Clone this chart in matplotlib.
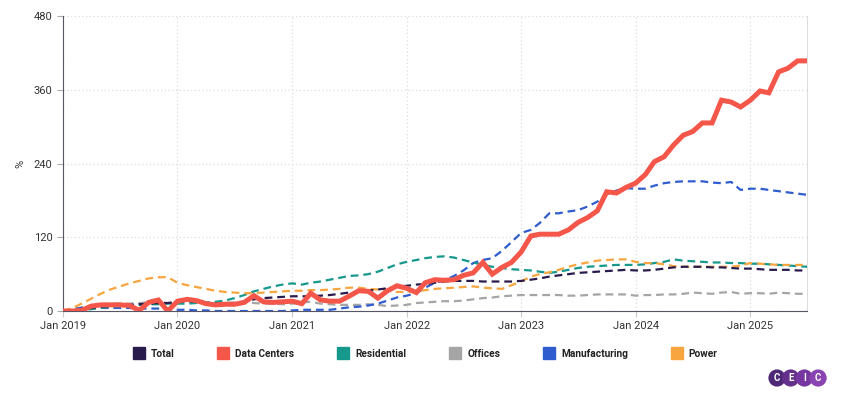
import matplotlib
matplotlib.use("Agg")
import matplotlib.pyplot as plt
import matplotlib.dates as mdates
from matplotlib.lines import Line2D
from matplotlib.patches import Circle
import pandas as pd

plt.rcParams['font.family'] = ['Roboto', 'DejaVu Sans']

months = pd.date_range('2019-01-01', '2025-07-01', freq='MS')

total = [0, 1, 3, 5, 7, 8, 9, 10, 11, 12, 13, 13,
         15, 16, 15, 13, 12, 12, 13, 15, 19, 21, 22, 23,
         24, 24, 24, 25, 26, 28, 30, 31, 33, 35, 37, 40,
         41, 43, 44, 46, 48, 49, 49, 49, 48, 48, 48, 48,
         49, 51, 53, 56, 58, 60, 62, 63, 64, 65, 66, 67,
         66, 66, 67, 69, 71, 72, 72, 72, 71, 71, 70, 69,
         69, 68, 67, 67, 67, 66, 66]
data_centers = [0, 0, 1, 8, 10, 10, 10, 9, 1, 14, 18, 0,
                16, 19, 17, 12, 10, 11, 11, 14, 25, 15, 14, 15,
                16, 12, 29, 18, 16, 16, 24, 33, 32, 21, 33, 41,
                37, 30, 46, 51, 50, 51, 58, 62, 79, 60, 71, 79,
                96, 122, 125, 125, 125, 132, 144, 152, 163, 194, 192, 201,
                208, 222, 243, 251, 270, 286, 292, 306, 306, 343, 340, 332,
                343, 358, 355, 389, 395, 407, 407]
residential = [0, 1, 2, 3, 5, 7, 8, 9, 10, 11, 11, 12,
               12, 12, 13, 14, 15, 17, 21, 26, 32, 36, 40, 43,
               45, 43, 46, 48, 51, 54, 57, 58, 60, 64, 70, 76,
               80, 83, 86, 88, 89, 87, 83, 79, 75, 72, 70, 68,
               67, 66, 64, 62, 64, 67, 70, 72, 73, 74, 75, 75,
               75, 76, 78, 80, 84, 82, 81, 80, 79, 79, 78, 78,
               77, 77, 76, 75, 74, 73, 72]
offices = [0, 3, 6, 9, 11, 12, 12, 12, 13, 14, 14, 13,
           14, 16, 15, 13, 12, 13, 14, 15, 13, 12, 12, 11,
           12, 14, 15, 12, 11, 10, 10, 10, 11, 10, 8, 9,
           10, 13, 14, 15, 16, 16, 17, 19, 21, 22, 24, 25,
           26, 26, 26, 26, 26, 25, 25, 26, 27, 27, 27, 27,
           25, 26, 26, 27, 27, 28, 30, 29, 28, 30, 31, 28,
           29, 29, 28, 30, 29, 28, 28]
manufacturing = [0, 3, 5, 6, 5, 5, 5, 5, 4, 4, 4, 3,
                 2, 2, 1, 1, 0, 0, 0, 0, 0, 0, 0, 0,
                 1, 2, 2, 2, 2, 4, 6, 7, 9, 12, 17, 22,
                 25, 29, 38, 46, 50, 57, 66, 78, 83, 86, 98, 112,
                 127, 132, 143, 159, 159, 162, 164, 170, 178, 190, 196, 200,
                 199, 199, 204, 208, 210, 211, 211, 211, 209, 208, 210, 197,
                 199, 199, 197, 195, 193, 191, 189]
power = [0, 5, 12, 20, 28, 35, 40, 45, 49, 53, 55, 55,
         46, 42, 39, 36, 33, 31, 30, 29, 29, 30, 31, 32,
         33, 33, 34, 34, 35, 36, 38, 38, 36, 35, 33, 31,
         31, 32, 34, 36, 37, 38, 39, 40, 38, 37, 36, 42,
         48, 56, 60, 63, 67, 72, 76, 79, 82, 83, 84, 84,
         80, 78, 78, 76, 73, 72, 72, 72, 72, 72, 72, 74,
         78, 77, 76, 75, 75, 75, 75]

names = ['Total', 'Data Centers', 'Residential', 'Offices', 'Manufacturing', 'Power']
colors = ['#2a1b4d', '#f4574a', '#16998c', '#a5a5a5', '#2f5ccf', '#f8a43f']
series = [total, data_centers, residential, offices, manufacturing, power]

fig = plt.figure(figsize=(8.46, 3.96), dpi=100)
ax = fig.add_axes([0.0745, 0.2146, 0.8795, 0.745])

# dashed lines first, data centers on top
order = [3, 4, 2, 5, 0]
for i in order:
    ax.plot(months, series[i], color=colors[i], lw=1.6, ls=(0, (3.5, 2.2)), zorder=3)
ax.plot(months, data_centers, color=colors[1], lw=3.6, zorder=4,
        solid_joinstyle='miter')

ax.set_xlim(months[0], months[-1])
ax.set_ylim(0, 480)
ax.set_yticks([0, 120, 240, 360, 480])
ax.xaxis.set_major_locator(mdates.YearLocator())
ax.xaxis.set_major_formatter(mdates.DateFormatter('Jan %Y'))

ax.grid(True, color='#dddddd', ls=(0, (1, 2)), lw=0.9)
ax.set_axisbelow(True)
ax.spines['top'].set_visible(False)
ax.spines['right'].set_color('#dddddd')
ax.spines['left'].set_color('#555566')
ax.spines['bottom'].set_color('#555566')
ax.tick_params(axis='both', labelsize=8, colors='#333333', length=4, width=0.8)
ax.tick_params(axis='x', colors='#cccccc', labelcolor='#333333')
ax.tick_params(axis='y', colors='#aaaaaa', labelcolor='#333333')
ax.set_ylabel('%', fontsize=8, color='#333333', labelpad=6)

handles = [Line2D([], [], ls='none', marker='s', markersize=8, markerfacecolor=c,
                  markeredgecolor=c) for c in colors]
leg = fig.legend(handles, names, loc='center', bbox_to_anchor=(0.503, 0.106), ncol=6,
                 frameon=False, columnspacing=4.3, handletextpad=0.7, handlelength=1.0,
                 prop={'size': 7.3, 'weight': 'bold'})
for t in leg.get_texts():
    t.set_color('#222222')

# CEIC logo, drawn in a pixel-unit axes so the circles stay round
lax = fig.add_axes([762 / 846, (396 - 388) / 396, 70 / 846, 20 / 396])
lax.set_xlim(762, 832)
lax.set_ylim(388, 368)
lax.set_aspect('equal')
lax.axis('off')
logo_cols = ['#4e2877', '#63308c', '#7638a0', '#8a44b2']
for k, (letter, col) in enumerate(zip('CEIC', logo_cols)):
    cx = 777 + k * 13.7
    lax.add_patch(Circle((cx, 378), 8.6, facecolor=col, edgecolor='none', zorder=2 + k))
    lax.text(cx, 378.3, letter, color='white', fontsize=7, fontweight='bold',
             ha='center', va='center', zorder=10)

fig.savefig('out.png', dpi=100)
